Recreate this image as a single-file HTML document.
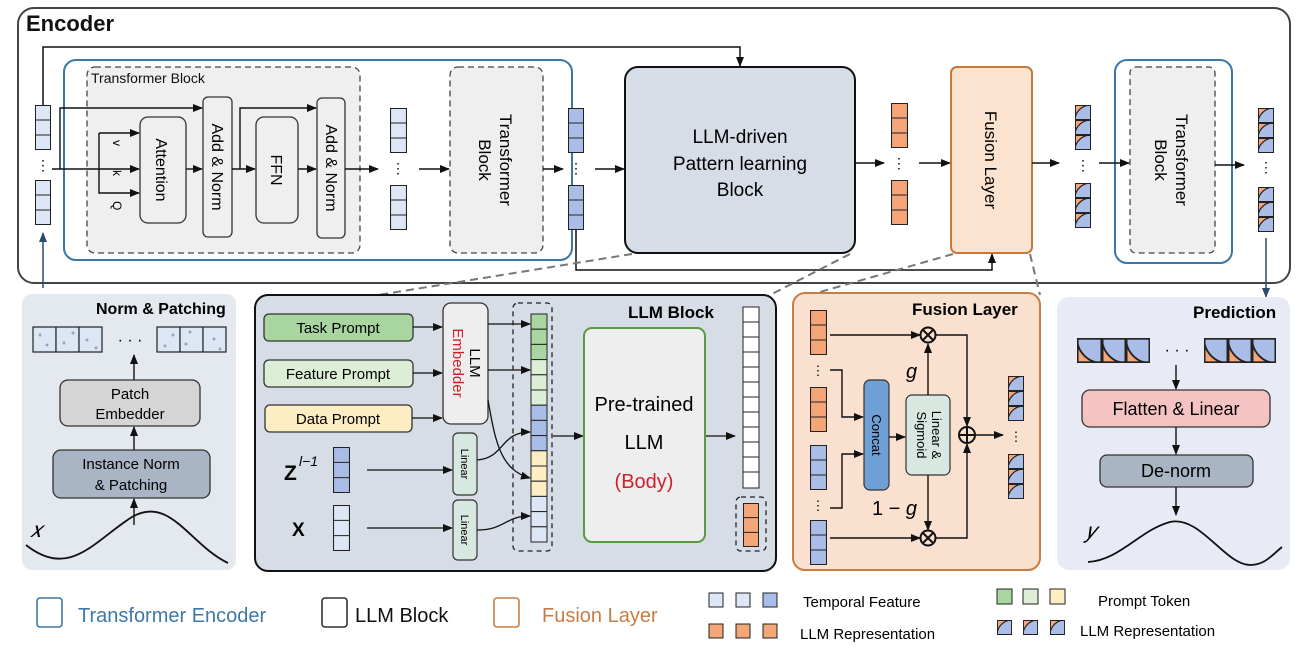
<!DOCTYPE html>
<html><head><meta charset="utf-8"><style>
html,body{margin:0;padding:0;background:#fff}
svg{display:block}
text{font-family:"Liberation Sans",sans-serif}
</style></head><body>
<svg width="1300" height="650" viewBox="0 0 1300 650" xmlns="http://www.w3.org/2000/svg">
<defs>
<marker id="ar" markerWidth="10" markerHeight="8" refX="9" refY="4" orient="auto" markerUnits="userSpaceOnUse"><path d="M0,0 L10,4 L0,8 Z" fill="#111"/></marker>
<marker id="arb" markerWidth="10" markerHeight="8" refX="9" refY="4" orient="auto" markerUnits="userSpaceOnUse"><path d="M0,0 L10,4 L0,8 Z" fill="#2d4a6a"/></marker>
<symbol id="slb" viewBox="0 0 16 45" preserveAspectRatio="none"><rect x="0.5" y="0.5" width="15" height="44" fill="#dce6f4" stroke="#222"/><path d="M0,15 H16 M0,30 H16" stroke="#222"/></symbol>
<symbol id="sdb" viewBox="0 0 16 45" preserveAspectRatio="none"><rect x="0.5" y="0.5" width="15" height="44" fill="#a9bde6" stroke="#222"/><path d="M0,15 H16 M0,30 H16" stroke="#222"/></symbol>
<symbol id="sor" viewBox="0 0 16 45" preserveAspectRatio="none"><rect x="0.5" y="0.5" width="15" height="44" fill="#f4a678" stroke="#222"/><path d="M0,15 H16 M0,30 H16" stroke="#222"/></symbol>
<symbol id="mc" viewBox="0 0 16 15" preserveAspectRatio="none"><rect x="0" y="0" width="16" height="15" fill="#a9bde6"/><path d="M0,0 L16,0 A16,15 0 0 0 0,15 Z" fill="#f4a678"/><path d="M16,0 A16,15 0 0 0 0,15" fill="none" stroke="#222" stroke-width="1.2"/><rect x="0.5" y="0.5" width="15" height="14" fill="none" stroke="#222"/></symbol>
<symbol id="mc2" viewBox="0 0 16 15" preserveAspectRatio="none"><rect x="0" y="0" width="16" height="15" fill="#a9bde6"/><path d="M0,0 A16,15 0 0 0 16,15 L0,15 Z" fill="#f4a678"/><path d="M0,0 A16,15 0 0 0 16,15" fill="none" stroke="#222" stroke-width="1.2"/><rect x="0.5" y="0.5" width="15" height="14" fill="none" stroke="#222"/></symbol>
<symbol id="smx" viewBox="0 0 16 45" preserveAspectRatio="none"><use href="#mc" x="0" y="0" width="16" height="15"/><use href="#mc" x="0" y="15" width="16" height="15"/><use href="#mc" x="0" y="30" width="16" height="15"/></symbol>
</defs>

<!-- Encoder -->
<rect x="18" y="8" width="1272" height="275" rx="16" fill="#fff" stroke="#444" stroke-width="2"/>
<text x="26" y="31" font-size="22" font-weight="bold" fill="#111">Encoder</text>

<use href="#slb" x="35" y="105" width="16" height="45"/>
<text x="43" y="170" font-size="14" text-anchor="middle">⋮</text>
<use href="#slb" x="35" y="180" width="16" height="45"/>
<line x1="43" y1="288" x2="43" y2="233" stroke="#2d4a6a" stroke-width="1.5" marker-end="url(#arb)"/>
<polyline points="43,105 43,47 740,47 740,66" fill="none" stroke="#111" stroke-width="1.5" marker-end="url(#ar)"/>

<rect x="64" y="60" width="508" height="200" rx="12" fill="#fff" stroke="#3b77a6" stroke-width="2"/>
<rect x="87" y="67" width="273" height="186" rx="8" fill="#efefef" stroke="#444" stroke-width="1.3" stroke-dasharray="6,4"/>
<text x="91" y="83" font-size="14" fill="#111">Transformer Block</text>
<rect x="140" y="117" width="46" height="106" rx="8" fill="#efefef" stroke="#333" stroke-width="1.3"/>
<text transform="translate(156,170) rotate(90)" font-size="16" text-anchor="middle">Attention</text>
<rect x="203" y="97" width="29" height="140" rx="5" fill="#efefef" stroke="#333" stroke-width="1.3"/>
<text transform="translate(212,167) rotate(90)" font-size="16" text-anchor="middle">Add &amp; Norm</text>
<rect x="256" y="117" width="42" height="106" rx="8" fill="#efefef" stroke="#333" stroke-width="1.3"/>
<text transform="translate(271,170) rotate(90)" font-size="16" text-anchor="middle">FFN</text>
<rect x="317" y="98" width="28" height="140" rx="5" fill="#efefef" stroke="#333" stroke-width="1.3"/>
<text transform="translate(326,168) rotate(90)" font-size="16" text-anchor="middle">Add &amp; Norm</text>
<rect x="450" y="67" width="93" height="186" rx="8" fill="#efefef" stroke="#444" stroke-width="1.3" stroke-dasharray="6,4"/>
<text transform="translate(496,160) rotate(90)" font-size="17" text-anchor="middle"><tspan x="0" y="-4">Transformer</tspan><tspan x="0" y="17">Block</tspan></text>
<g stroke="#111" stroke-width="1.4" fill="none">
<line x1="52" y1="169" x2="139" y2="169" marker-end="url(#ar)"/>
<polyline points="60,169 60,108 202,108" marker-end="url(#ar)"/>
<polyline points="99,133 99,193 139,193" marker-end="url(#ar)"/>
<line x1="99" y1="133" x2="139" y2="133" marker-end="url(#ar)"/>
<line x1="186" y1="169" x2="202" y2="169" marker-end="url(#ar)"/>
<line x1="232" y1="169" x2="255" y2="169" marker-end="url(#ar)"/>
<polyline points="240,169 240,108 316,108" marker-end="url(#ar)"/>
<line x1="298" y1="169" x2="316" y2="169" marker-end="url(#ar)"/>
<line x1="345" y1="169" x2="378" y2="169" marker-end="url(#ar)"/>
<line x1="419" y1="169" x2="449" y2="169" marker-end="url(#ar)"/>
<line x1="543" y1="169" x2="563" y2="169" marker-end="url(#ar)"/>
<line x1="595" y1="169" x2="624" y2="169" marker-end="url(#ar)"/>
</g>
<text x="116" y="147" font-size="12" transform="rotate(90 118 142)">v</text>
<text x="116" y="177" font-size="12" transform="rotate(90 118 172)">k</text>
<text x="116" y="208" font-size="12" transform="rotate(90 118 203)">Q</text>
<use href="#slb" x="390" y="108" width="17" height="45"/>
<text x="398" y="173" font-size="14" text-anchor="middle">⋮</text>
<use href="#slb" x="390" y="185" width="17" height="45"/>
<use href="#sdb" x="568" y="108" width="16" height="45"/>
<text x="576" y="173" font-size="14" text-anchor="middle">⋮</text>
<use href="#sdb" x="568" y="185" width="16" height="45"/>

<rect x="625" y="67" width="230" height="186" rx="13" fill="#d6dde6" stroke="#111" stroke-width="2"/>
<text x="740" y="183" font-size="19" text-anchor="middle"><tspan x="740" y="143">LLM-driven</tspan><tspan x="740" y="170">Pattern learning</tspan><tspan x="740" y="196">Block</tspan></text>
<polyline points="576,230 576,270 992,270 992,254" fill="none" stroke="#111" stroke-width="1.5" marker-end="url(#ar)"/>
<line x1="855" y1="163" x2="884" y2="163" stroke="#111" stroke-width="1.4" marker-end="url(#ar)"/>
<use href="#sor" x="891" y="103" width="17" height="45"/>
<text x="899" y="168" font-size="14" text-anchor="middle">⋮</text>
<use href="#sor" x="891" y="180" width="17" height="45"/>
<line x1="919" y1="163" x2="950" y2="163" stroke="#111" stroke-width="1.4" marker-end="url(#ar)"/>
<rect x="951" y="67" width="81" height="186" rx="6" fill="#fbe3d0" stroke="#c8763a" stroke-width="2"/>
<text transform="translate(985,160) rotate(90)" font-size="17" text-anchor="middle">Fusion Layer</text>
<line x1="1032" y1="163" x2="1059" y2="163" stroke="#111" stroke-width="1.4" marker-end="url(#ar)"/>
<use href="#smx" x="1075" y="105" width="16" height="45"/>
<text x="1083" y="170" font-size="14" text-anchor="middle">⋮</text>
<use href="#smx" x="1075" y="183" width="16" height="45"/>
<rect x="1115" y="60" width="117" height="203" rx="12" fill="#fff" stroke="#3b77a6" stroke-width="2"/>
<rect x="1130" y="67" width="85" height="186" rx="6" fill="#efefef" stroke="#444" stroke-width="1.3" stroke-dasharray="6,4"/>
<text transform="translate(1172,160) rotate(90)" font-size="17" text-anchor="middle"><tspan x="0" y="-4">Transformer</tspan><tspan x="0" y="17">Block</tspan></text>
<line x1="1099" y1="163" x2="1129" y2="163" stroke="#111" stroke-width="1.4" marker-end="url(#ar)"/>
<line x1="1215" y1="165" x2="1244" y2="165" stroke="#111" stroke-width="1.4" marker-end="url(#ar)"/>
<use href="#smx" x="1258" y="108" width="16" height="45"/>
<text x="1266" y="172" font-size="14" text-anchor="middle">⋮</text>
<use href="#smx" x="1258" y="187" width="16" height="45"/>
<line x1="1266" y1="238" x2="1266" y2="297" stroke="#2d4a6a" stroke-width="1.5" marker-end="url(#arb)"/>

<g stroke="#777" stroke-width="2" stroke-dasharray="8,5" fill="none">
<line x1="632" y1="254" x2="372" y2="296"/>
<line x1="850" y1="254" x2="768" y2="296"/>
<line x1="953" y1="254" x2="792" y2="300"/>
<line x1="1030" y1="254" x2="1040" y2="295"/>
</g>

<!-- Norm & Patching -->
<rect x="22" y="294" width="214" height="276" rx="10" fill="#e4e8ef"/>
<text x="96" y="314" font-size="16" font-weight="bold">Norm &amp; Patching</text>
<g stroke="#222" fill="#dce6f4" stroke-width="1.2">
<rect x="33" y="327" width="23" height="25"/><rect x="56" y="327" width="23" height="25"/><rect x="79" y="327" width="23" height="25"/>
<rect x="157" y="327" width="23" height="25"/><rect x="180" y="327" width="23" height="25"/><rect x="203" y="327" width="23" height="25"/>
</g>
<g fill="#9aa6b6"><circle cx="40" cy="335" r="1.5"/><circle cx="47" cy="345" r="1.5"/><circle cx="64" cy="343" r="1.5"/><circle cx="73" cy="333" r="1.5"/><circle cx="87" cy="340" r="1.5"/><circle cx="96" cy="348" r="1.5"/><circle cx="165" cy="346" r="1.5"/><circle cx="173" cy="335" r="1.5"/><circle cx="190" cy="332" r="1.5"/><circle cx="186" cy="344" r="1.5"/><circle cx="214" cy="339" r="1.5"/><circle cx="220" cy="349" r="1.5"/></g>
<text x="130" y="345" font-size="16" text-anchor="middle">· · ·</text>
<line x1="134" y1="380" x2="134" y2="355" stroke="#111" stroke-width="1.4" marker-end="url(#ar)"/>
<rect x="60" y="380" width="140" height="46" rx="8" fill="#d5d5d5" stroke="#333" stroke-width="1.3"/>
<text x="130" y="399" font-size="15" text-anchor="middle">Patch</text>
<text x="130" y="419" font-size="15" text-anchor="middle">Embedder</text>
<line x1="134" y1="450" x2="134" y2="427" stroke="#111" stroke-width="1.4" marker-end="url(#ar)"/>
<rect x="53" y="450" width="157" height="48" rx="8" fill="#a9b4c4" stroke="#333" stroke-width="1.3"/>
<text x="131" y="469" font-size="15" text-anchor="middle">Instance Norm</text>
<text x="131" y="490" font-size="15" text-anchor="middle">&amp; Patching</text>
<line x1="134" y1="525" x2="134" y2="499" stroke="#111" stroke-width="1.4" marker-end="url(#ar)"/>
<text x="30" y="537" font-size="22" font-style="italic" font-family="Liberation Serif">𝑥</text>
<path d="M26,545 C70,580 95,540 132,517 C170,495 190,545 228,563" fill="none" stroke="#111" stroke-width="1.8"/>

<!-- LLM Block -->
<rect x="255" y="295" width="521" height="276" rx="13" fill="#d6dde6" stroke="#111" stroke-width="2"/>
<text x="628" y="318" font-size="17" font-weight="bold">LLM Block</text>
<rect x="264" y="314" width="149" height="27" rx="5" fill="#a8d5a0" stroke="#333" stroke-width="1.3"/>
<text x="338" y="333" font-size="15" text-anchor="middle">Task Prompt</text>
<rect x="264" y="360" width="149" height="27" rx="5" fill="#dcefd6" stroke="#333" stroke-width="1.3"/>
<text x="338" y="379" font-size="15" text-anchor="middle">Feature Prompt</text>
<rect x="265" y="405" width="147" height="27" rx="5" fill="#fdedc2" stroke="#333" stroke-width="1.3"/>
<text x="338" y="424" font-size="15" text-anchor="middle">Data Prompt</text>
<rect x="443" y="303" width="45" height="121" rx="8" fill="#eeeeee" stroke="#333" stroke-width="1.3"/>
<text transform="translate(466,363) rotate(90)" font-size="15" text-anchor="middle"><tspan x="0" y="-4">LLM</tspan><tspan x="0" y="13" fill="#d0202a">Embedder</tspan></text>
<g stroke="#111" stroke-width="1.3" fill="none">
<line x1="413" y1="327" x2="442" y2="327" marker-end="url(#ar)"/>
<line x1="413" y1="373" x2="442" y2="373" marker-end="url(#ar)"/>
<line x1="412" y1="418" x2="442" y2="418" marker-end="url(#ar)"/>
<line x1="488" y1="324" x2="530" y2="324" marker-end="url(#ar)"/>
<line x1="488" y1="370" x2="530" y2="370" marker-end="url(#ar)"/>
<path d="M488,400 C495,440 500,470 530,478" marker-end="url(#ar)"/>
<path d="M477,460 C505,458 500,432 530,432" marker-end="url(#ar)"/>
<path d="M477,530 C505,530 505,516 530,516" marker-end="url(#ar)"/>
<line x1="367" y1="470" x2="452" y2="470" marker-end="url(#ar)"/>
<line x1="367" y1="528" x2="452" y2="528" marker-end="url(#ar)"/>
<line x1="553" y1="436" x2="583" y2="436" marker-end="url(#ar)"/>
<line x1="705" y1="436" x2="735" y2="436" marker-end="url(#ar)"/>
</g>
<rect x="513" y="303" width="39" height="248" rx="5" fill="none" stroke="#222" stroke-width="1.3" stroke-dasharray="5,4"/>
<g stroke="#222" stroke-width="1">
<rect x="531" y="314" width="16" height="15.2" fill="#a8d5a0"/><rect x="531" y="329.2" width="16" height="15.2" fill="#a8d5a0"/><rect x="531" y="344.4" width="16" height="15.2" fill="#a8d5a0"/>
<rect x="531" y="359.6" width="16" height="15.2" fill="#dcefd6"/><rect x="531" y="374.8" width="16" height="15.2" fill="#dcefd6"/><rect x="531" y="390" width="16" height="15.2" fill="#dcefd6"/>
<rect x="531" y="405.2" width="16" height="15.2" fill="#a9bde6"/><rect x="531" y="420.4" width="16" height="15.2" fill="#a9bde6"/><rect x="531" y="435.6" width="16" height="15.2" fill="#a9bde6"/>
<rect x="531" y="450.8" width="16" height="15.2" fill="#fdedc2"/><rect x="531" y="466" width="16" height="15.2" fill="#fdedc2"/><rect x="531" y="481.2" width="16" height="15.2" fill="#fdedc2"/>
<rect x="531" y="496.4" width="16" height="15.2" fill="#dce6f4"/><rect x="531" y="511.6" width="16" height="15.2" fill="#dce6f4"/><rect x="531" y="526.8" width="16" height="15.2" fill="#dce6f4"/>
</g>
<rect x="453" y="433" width="24" height="62" rx="5" fill="#d7e8e0" stroke="#333" stroke-width="1.2"/>
<text transform="translate(461,464) rotate(90)" font-size="11" text-anchor="middle">Linear</text>
<rect x="453" y="500" width="24" height="60" rx="5" fill="#d7e8e0" stroke="#333" stroke-width="1.2"/>
<text transform="translate(461,530) rotate(90)" font-size="11" text-anchor="middle">Linear</text>
<text x="284" y="480" font-size="21" font-weight="bold" font-family="Liberation Serif">Z</text>
<text x="299" y="466" font-size="14" font-style="italic" font-family="Liberation Serif">l−1</text>
<use href="#sdb" x="333" y="447" width="17" height="46"/>
<text x="292" y="536" font-size="19" font-weight="bold" font-family="Liberation Serif">X</text>
<use href="#slb" x="333" y="505" width="17" height="46"/>
<rect x="584" y="328" width="121" height="214" rx="8" fill="#eeeeee" stroke="#5a9a40" stroke-width="2"/>
<text x="644" y="411" font-size="20" text-anchor="middle">Pre-trained</text>
<text x="644" y="449" font-size="20" text-anchor="middle">LLM</text>
<text x="644" y="488" font-size="20" text-anchor="middle" fill="#d0202a">(Body)</text>
<rect x="743" y="307" width="16" height="181" fill="#fff" stroke="#222" stroke-width="1"/>
<path d="M743,322 H759 M743,337 H759 M743,352 H759 M743,367 H759 M743,382 H759 M743,397 H759 M743,412 H759 M743,427 H759 M743,442 H759 M743,457 H759 M743,472 H759" stroke="#222" stroke-width="1"/>
<rect x="736" y="497" width="30" height="54" rx="5" fill="none" stroke="#222" stroke-width="1.3" stroke-dasharray="5,4"/>
<use href="#sor" x="743" y="503" width="16" height="44"/>

<!-- Fusion panel -->
<rect x="793" y="293" width="247" height="277" rx="12" fill="#f9e0cf" stroke="#c87d45" stroke-width="2"/>
<text x="912" y="315" font-size="17" font-weight="bold">Fusion Layer</text>
<use href="#sor" x="810" y="310" width="17" height="45"/>
<text x="818" y="375" font-size="13" text-anchor="middle">⋮</text>
<use href="#sor" x="810" y="387" width="17" height="45"/>
<use href="#sdb" x="810" y="445" width="17" height="45"/>
<text x="818" y="510" font-size="13" text-anchor="middle">⋮</text>
<use href="#sdb" x="810" y="520" width="17" height="45"/>
<rect x="864" y="380" width="25" height="110" rx="6" fill="#6fa0d5" stroke="#333" stroke-width="1.2"/>
<text transform="translate(872,435) rotate(90)" font-size="13" text-anchor="middle">Concat</text>
<rect x="906" y="395" width="44" height="80" rx="6" fill="#d8e8e0" stroke="#333" stroke-width="1.2"/>
<text transform="translate(928,435) rotate(90)" font-size="13" text-anchor="middle"><tspan x="0" y="-4">Linear &amp;</tspan><tspan x="0" y="11">Sigmoid</tspan></text>
<g stroke="#111" stroke-width="1.4" fill="none">
<line x1="830" y1="335" x2="920" y2="335" marker-end="url(#ar)"/>
<polyline points="830,370 842,370 842,417 863,417" marker-end="url(#ar)"/>
<polyline points="830,508 842,508 842,454 863,454" marker-end="url(#ar)"/>
<line x1="889" y1="437" x2="905" y2="437" marker-end="url(#ar)"/>
<line x1="928" y1="395" x2="928" y2="344" marker-end="url(#ar)"/>
<line x1="928" y1="475" x2="928" y2="530" marker-end="url(#ar)"/>
<line x1="830" y1="538" x2="920" y2="538" marker-end="url(#ar)"/>
<polyline points="936,335 967,335 967,426" marker-end="url(#ar)"/>
<polyline points="936,538 967,538 967,444" marker-end="url(#ar)"/>
<line x1="976" y1="435" x2="1003" y2="435" marker-end="url(#ar)"/>
<circle cx="928" cy="335" r="7.5" stroke-width="2" fill="#f9e0cf"/>
<path d="M923,330 L933,340 M933,330 L923,340" stroke-width="2"/>
<circle cx="928" cy="538" r="7.5" stroke-width="2" fill="#f9e0cf"/>
<path d="M923,533 L933,543 M933,533 L923,543" stroke-width="2"/>
<circle cx="967" cy="435" r="8" stroke-width="2" fill="#f9e0cf"/>
<path d="M959,435 H975 M967,427 V443" stroke-width="2"/>
</g>
<text x="906" y="378" font-size="20" font-style="italic" font-family="Liberation Serif">g</text>
<text x="872" y="515" font-size="20" font-family="Liberation Serif">1 − <tspan font-style="italic">g</tspan></text>
<use href="#smx" x="1008" y="376" width="16" height="45"/>
<text x="1016" y="441" font-size="13" text-anchor="middle">⋮</text>
<use href="#smx" x="1008" y="454" width="16" height="45"/>

<!-- Prediction -->
<rect x="1057" y="297" width="233" height="273" rx="12" fill="#e8ebf5"/>
<text x="1193" y="318" font-size="17" font-weight="bold">Prediction</text>
<use href="#mc2" x="1077" y="338" width="25" height="25"/><use href="#mc2" x="1102" y="338" width="24" height="25"/><use href="#mc2" x="1126" y="338" width="24" height="25"/>
<use href="#mc2" x="1204" y="338" width="24" height="25"/><use href="#mc2" x="1228" y="338" width="24" height="25"/><use href="#mc2" x="1252" y="338" width="24" height="25"/>
<text x="1177" y="355" font-size="16" text-anchor="middle">· · ·</text>
<line x1="1176" y1="365" x2="1176" y2="389" stroke="#111" stroke-width="1.4" marker-end="url(#ar)"/>
<rect x="1082" y="390" width="188" height="37" rx="8" fill="#f6c3c3" stroke="#333" stroke-width="1.3"/>
<text x="1176" y="415" font-size="18" text-anchor="middle">Flatten &amp; Linear</text>
<line x1="1176" y1="427" x2="1176" y2="454" stroke="#111" stroke-width="1.4" marker-end="url(#ar)"/>
<rect x="1100" y="455" width="153" height="32" rx="7" fill="#a9b4c4" stroke="#333" stroke-width="1.3"/>
<text x="1176" y="477" font-size="18" text-anchor="middle">De-norm</text>
<line x1="1176" y1="487" x2="1176" y2="515" stroke="#111" stroke-width="1.4" marker-end="url(#ar)"/>
<text x="1086" y="538" font-size="22" font-style="italic" font-family="Liberation Serif">𝑦</text>
<path d="M1088,562 C1120,560 1140,530 1170,522 C1200,515 1225,565 1250,565 C1265,565 1272,555 1282,547" fill="none" stroke="#111" stroke-width="1.8"/>

<!-- Legend -->
<rect x="37" y="598" width="25" height="29" rx="3" fill="none" stroke="#3b77a6" stroke-width="1.6"/>
<text x="78" y="622" font-size="20" fill="#3f78a8">Transformer Encoder</text>
<rect x="322" y="598" width="25" height="29" rx="3" fill="none" stroke="#333" stroke-width="1.6"/>
<text x="355" y="622" font-size="20" fill="#111">LLM Block</text>
<rect x="494" y="598" width="25" height="29" rx="3" fill="none" stroke="#c87d45" stroke-width="1.6"/>
<text x="542" y="622" font-size="20" fill="#c87d45">Fusion Layer</text>
<g stroke="#222" stroke-width="1">
<rect x="709" y="593" width="14" height="14" fill="#dce6f4"/><rect x="736" y="593" width="14" height="14" fill="#dce6f4"/><rect x="763" y="593" width="14" height="14" fill="#a9bde6"/>
<rect x="709" y="624" width="14" height="14" fill="#f4a678"/><rect x="736" y="624" width="14" height="14" fill="#f4a678"/><rect x="763" y="624" width="14" height="14" fill="#f4a678"/>
<rect x="997" y="589" width="15" height="15" fill="#a8d5a0"/><rect x="1023" y="589" width="15" height="15" fill="#dcefd6"/><rect x="1050" y="589" width="15" height="15" fill="#fdedc2"/>
</g>
<use href="#mc" x="997" y="620" width="15" height="15"/><use href="#mc" x="1023" y="620" width="15" height="15"/><use href="#mc" x="1050" y="620" width="15" height="15"/>
<text x="803" y="607" font-size="15">Temporal Feature</text>
<text x="800" y="639" font-size="15">LLM Representation</text>
<text x="1098" y="606" font-size="15">Prompt Token</text>
<text x="1080" y="636" font-size="15">LLM Representation</text>
</svg>
</body></html>
